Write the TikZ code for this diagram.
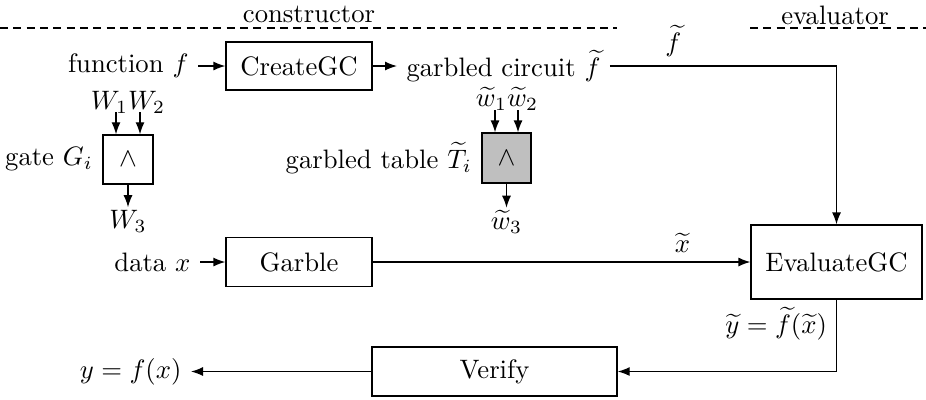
\documentclass[tikz,border=0pt]{standalone}
\usepackage{amsmath,amssymb}
\usepackage{tikz}
\usetikzlibrary{calc,arrows.meta}

\begin{document}
\begin{tikzpicture}[x=0.375pt,y=0.375pt,yscale=-1,xscale=1,line width=0.5pt,
  block/.style={draw, inner sep=0pt},
  tag/.style={inner sep=0.75pt},
  flow/.style={-{Latex[length=4.5pt,width=3.4pt]}}]
\path [use as bounding box] (0,0) rectangle (926,399);

%Dashed Lines
\draw [dash pattern=on 3pt off 2pt] (0,28) -- (617,28) ;
\draw [dash pattern=on 3pt off 2pt] (750,28) -- (926,28) ;
% Text Node
\node (con) at (309,14) {constructor};
% Text Node
\node (eva) at (835,15) {evaluator};

%Shape: Rectangle
\node [block, minimum width=54.75pt, minimum height=18pt] (create) at (299,66) {CreateGC};
%Shape: Rectangle
\node [block, minimum width=54.75pt, minimum height=18.4pt] (garble) at (299,262) {Garble};
%Shape: Rectangle
\node [block, minimum width=64.1pt, minimum height=27.75pt] (evaluate) at (836.5,262) {EvaluateGC};
%Shape: Rectangle
\node [block, minimum width=91.9pt, minimum height=18.4pt] (verify) at (494.5,371.5) {Verify};
%Shape: Square
\node [block, minimum width=18.75pt, minimum height=18.4pt] (gate) at (128,159.5) {$\wedge$};
%Shape: Square
\node [block, fill=gray!50, minimum width=18.4pt, minimum height=18.75pt] (gtable) at (506.5,158) {$\wedge$};

% Text Node
\node [anchor=east] (fn) at (198,66) {function $f$};
% Text Node
\node [anchor=west] (gc) at (397,66) {garbled circuit $\widetilde{f}$};
% Text Node
\node [anchor=east] (data) at (200,262) {data $x$};
% Text Node
\node [anchor=east] (out) at (191,371.5) {$y=f(x)$};
% Text Node
\node [anchor=east] (gatelbl) at (gate.west) {gate $G_i$};
% Text Node
\node [anchor=east] (gtlbl) at (gtable.west) {garbled table $\widetilde{T}_i$};
% Text Node
\node [tag] (wab) at (128,102) {$W_1W_2$};
% Text Node
\node [tag] (wc) at (128,221) {$W_3$};
% Text Node
\node [tag] (twab) at (507,99) {$\widetilde{w}_1\widetilde{w}_2$};
% Text Node
\node [tag] (twc) at (506.5,222) {$\widetilde{w}_3$};

%Gate wires
\coordinate (a1) at (116,112);
\coordinate (a2) at (140,112);
\draw [flow] (a1) -- (a1 |- gate.north) ;
\draw [flow] (a2) -- (a2 |- gate.north) ;
\draw [flow] (gate) -- (wc) ;
\coordinate (b1) at (495,110);
\coordinate (b2) at (518,110);
\draw [flow] (b1) -- (b1 |- gtable.north) ;
\draw [flow] (b2) -- (b2 |- gtable.north) ;
\draw [flow] (gtable) -- (twc) ;

%Straight Lines
\draw [flow] (fn) -- (create) ;
\draw [flow] (create) -- (gc) ;
\draw [flow] (data) -- (garble) ;
\draw [flow] (garble) -- node [pos=0.82, above] {$\widetilde{x}$} (evaluate) ;
\draw [flow] (gc) -| node [pos=0.14, above] {$\widetilde{f}$} (evaluate) ;
\draw [flow] (evaluate) |- node [pos=0.17, left] {$\widetilde{y}=\widetilde{f}(\widetilde{x})$} (verify) ;
\draw [flow] (verify) -- (out) ;

\end{tikzpicture}
\end{document}
